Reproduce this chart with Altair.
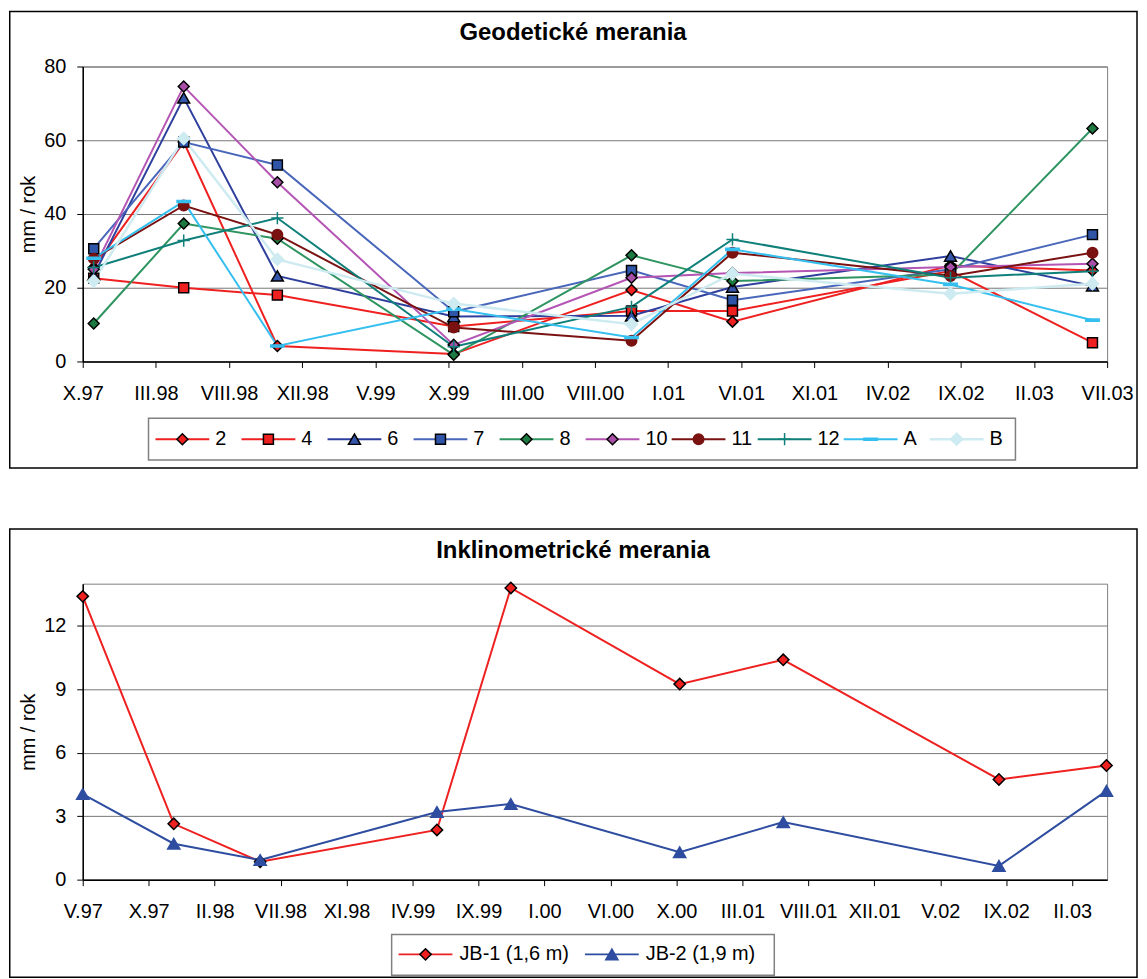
import altair as alt
import pandas as pd

FONT = "Liberation Sans"

# ---------------- Geodetické merania ----------------
geo_ticks = ["X.97", "III.98", "VIII.98", "XII.98", "V.99", "X.99", "III.00",
             "VIII.00", "I.01", "VI.01", "XI.01", "IV.02", "IX.02", "II.03", "VII.03"]
# measurement epochs, in axis-tick units (one tick = one label step)
geo_t = [0.15, 1.38, 2.66, 5.07, 7.5, 8.88, 11.86, 13.8]
geo_series = ["2", "4", "6", "7", "8", "10", "11", "12", "A", "B"]
g2 = [25.5, 59.5, 4.2, 2.0, 19.4, 10.8, 26.0, 24.7]
g4 = [22.6, 20.0, 18.0, 9.5, 13.7, 13.7, 24.5, 5.1]
g6 = [23.4, 71.5, 23.2, 12.2, 12.4, 20.2, 28.6, 20.5]
g7 = [30.6, 59.5, 53.3, 13.5, 24.7, 16.6, 25.0, 34.4]
g8 = [10.3, 37.4, 33.3, 1.8, 28.8, 21.8, 23.6, 63.2]
g10 = [25.0, 74.6, 48.6, 4.5, 22.7, 24.0, 25.6, 26.5]
g11 = [27.9, 42.3, 34.4, 9.2, 5.6, 29.5, 23.2, 29.5]
g12 = [25.5, 32.8, 38.9, 4.0, 14.8, 33.1, 22.7, 24.5]
gA = [28.0, 43.4, 4.2, 14.2, 6.5, 30.4, 20.9, 11.2]
gB = [21.8, 60.5, 27.7, 15.7, 10.1, 23.8, 18.4, 21.1]
geo_values = [g2, g4, g6, g7, g8, g10, g11, g12, gA, gB]

# ---------------- Inklinometrické merania ----------------
ink_ticks = ["V.97", "X.97", "II.98", "VII.98", "XI.98", "IV.99", "IX.99", "I.00",
             "VI.00", "X.00", "III.01", "VIII.01", "XII.01", "V.02", "IX.02", "II.03"]
ink_t = [0, 1.38, 2.69, 5.37, 6.49, 9.05, 10.62, 13.89, 15.52]
ink_series = ["JB-1 (1,6 m)", "JB-2 (1,9 m)"]
jb1 = [13.4, 2.64, 0.85, 2.35, 13.8, 9.25, 10.4, 4.74, 5.4]
jb2 = [4.05, 1.7, 0.93, 3.2, 3.58, 1.3, 2.72, 0.65, 4.2]
ink_values = [jb1, jb2]

# ---------------- styles ----------------
PLUS = "M-1,0H1M0,-1V1"
DASH = "M-1,-0.16H1V0.16H-1Z"
LEGLINE = "M-1,0H1"
geo_style = {
    "2":  dict(line="#EE2020", shape="diamond", fill="#EE2020", mstroke="black", size=121, lw=2),
    "4":  dict(line="#EE2020", shape="square", fill="#EE2020", mstroke="black", size=100, lw=2),
    "6":  dict(line="#2E3F9E", shape="triangle-up", fill="#3355AA", mstroke="black", size=144, lw=2),
    "7":  dict(line="#4866BA", shape="square", fill="#2F55A8", mstroke="black", size=100, lw=2),
    "8":  dict(line="#2E9460", shape="diamond", fill="#1D7A40", mstroke="black", size=121, lw=2),
    "10": dict(line="#B455B4", shape="diamond", fill="#A850A8", mstroke="black", size=121, lw=2),
    "11": dict(line="#7A1212", shape="circle", fill="#7A1212", mstroke="#7A1212", size=110, lw=2),
    "12": dict(line="#0F7F7A", shape=PLUS, fill="transparent", mstroke="#0F7F7A", size=150, lw=2),
    "A":  dict(line="#35BFEF", shape=DASH, fill="#35BFEF", mstroke="#35BFEF", size=180, lw=2),
    "B":  dict(line="#CDEBF0", shape="diamond", fill="#CDEBF0", mstroke="#CDEBF0", size=150, lw=2.5),
}
ink_style = {
    "JB-1 (1,6 m)": dict(line="#EE2020", shape="diamond", fill="#EE2020", mstroke="black", size=130, lw=2),
    "JB-2 (1,9 m)": dict(line="#2E4DA0", shape="triangle-up", fill="#2E4DA0", mstroke="#2E4DA0", size=150, lw=2),
}


def build(series, ts, values, style):
    rows = []
    for s, vals in zip(series, values):
        for t, v in zip(ts, vals):
            r = dict(series=s, t=t, v=v)
            r.update(style[s])
            rows.append(r)
    return pd.DataFrame(rows)


def legend_table(series, style):
    rows = []
    for s in series:
        r = dict(series=s)
        r.update(style[s])
        rows.append(r)
    return pd.DataFrame(rows)


def panel(df, leg_df, series, ticks, xmax, ymax, yvals, title, W, H,
          frame, title_pos, leg_box, leg_range, leg_y, leg_dx):
    one = pd.DataFrame({"k": [0]})
    label_expr = "[" + ",".join("'%s'" % s for s in ticks) + "][datum.value]"
    xscale = alt.Scale(domain=[0, xmax], nice=False, zero=False)
    x_axis = alt.X("t:Q", scale=xscale, axis=alt.Axis(
        values=list(range(len(ticks))), labelExpr=label_expr, title=None, grid=False,
        labelFontSize=20, labelFont=FONT, labelColor="black", labelPadding=16,
        tickSize=6, tickColor="black", domainColor="black", domainWidth=1.5,
        labelOverlap=False, labelFlush=False))
    x_noaxis = alt.X("t:Q", scale=xscale, axis=None)
    y_enc = alt.Y("v:Q", scale=alt.Scale(domain=[0, ymax], nice=False), axis=alt.Axis(
        values=yvals, title="mm / rok", titleFont=FONT, titleFontSize=20,
        titleFontWeight="normal", titleColor="black", titleX=-54, titleY=H / 2,
        titleBaseline="middle", titleAngle=-90,
        labelFontSize=20, labelFont=FONT, labelColor="black", labelPadding=11,
        tickSize=6, tickColor="black", domainColor="black", domainWidth=1.5,
        grid=True, gridColor="#777777", gridWidth=1))

    frame_l = alt.Chart(one).mark_rect(fill="transparent", stroke="black", strokeWidth=1.5).encode(
        x=alt.value(frame[0]), x2=alt.value(frame[1]), y=alt.value(frame[2]), y2=alt.value(frame[3]))
    title_l = alt.Chart(one).mark_text(text=title, font=FONT, fontSize=24, fontWeight="bold",
                                       color="black", baseline="middle", align="center").encode(
        x=alt.value(title_pos[0]), y=alt.value(title_pos[1]))

    lines = alt.Chart(df).mark_line().encode(
        x=x_axis, y=y_enc,
        color=alt.Color("line:N", scale=None),
        strokeWidth=alt.StrokeWidth("lw:Q", scale=None),
        detail="series:N", order="t:Q")
    points = alt.Chart(df).mark_point(opacity=1, strokeWidth=1.5).encode(
        x=x_noaxis, y=y_enc,
        shape=alt.Shape("shape:N", scale=None),
        fill=alt.Fill("fill:N", scale=None),
        stroke=alt.Stroke("mstroke:N", scale=None),
        size=alt.Size("size:Q", scale=None))

    leg_x = alt.X("series:N", scale=alt.Scale(type="point", domain=series, range=leg_range, padding=0),
                  axis=None)
    box = alt.Chart(one).mark_rect(fill="white", stroke="#808080", strokeWidth=1.5).encode(
        x=alt.value(leg_box[0]), x2=alt.value(leg_box[1]), y=alt.value(leg_box[2]), y2=alt.value(leg_box[3]))
    leg_lines = alt.Chart(leg_df).mark_point(shape=LEGLINE, size=54 * 54, opacity=1, filled=False).encode(
        x=leg_x, y=alt.value(leg_y),
        stroke=alt.Stroke("line:N", scale=None),
        strokeWidth=alt.StrokeWidth("lw:Q", scale=None))
    leg_marks = alt.Chart(leg_df).mark_point(opacity=1, strokeWidth=1.5).encode(
        x=leg_x, y=alt.value(leg_y),
        shape=alt.Shape("shape:N", scale=None),
        fill=alt.Fill("fill:N", scale=None),
        stroke=alt.Stroke("mstroke:N", scale=None),
        size=alt.Size("size:Q", scale=None))
    leg_text = alt.Chart(leg_df).mark_text(align="left", baseline="middle", dx=leg_dx, font=FONT,
                                           fontSize=20, color="black").encode(
        x=leg_x, y=alt.value(leg_y), text="series:N")

    return alt.layer(frame_l, title_l, lines, points, box, leg_lines, leg_marks, leg_text).resolve_scale(
        x="independent").properties(width=W, height=H)


geo_df = build(geo_series, geo_t, geo_values, geo_style)
ink_df = build(ink_series, ink_t, ink_values, ink_style)

top = panel(geo_df, legend_table(geo_series, geo_style), geo_series, geo_ticks, 14, 80,
            [0, 20, 40, 60, 80], "Geodetické merania", 1028, 296,
            frame=(-73.25, 1058, -55.25, 403), title_pos=(492, -34),
            leg_box=(66, 936, 353, 395), leg_range=[100, 877], leg_y=374, leg_dx=33)
bottom = panel(ink_df, legend_table(ink_series, ink_style), ink_series, ink_ticks, 15.53, 14,
               [0, 3, 6, 9, 12], "Inklinometrické merania", 1028, 297,
               frame=(-73.25, 1058, -55, 395), title_pos=(492, -33),
               leg_box=(310, 694, 352, 393), leg_range=[344, 531], leg_y=372, leg_dx=34)

chart = alt.vconcat(top, bottom, spacing=57).properties(padding=0).configure(
    font=FONT).configure_view(stroke="#808080", strokeWidth=1)

chart.save("out.html", embed_options={"renderer": "svg", "actions": False})
